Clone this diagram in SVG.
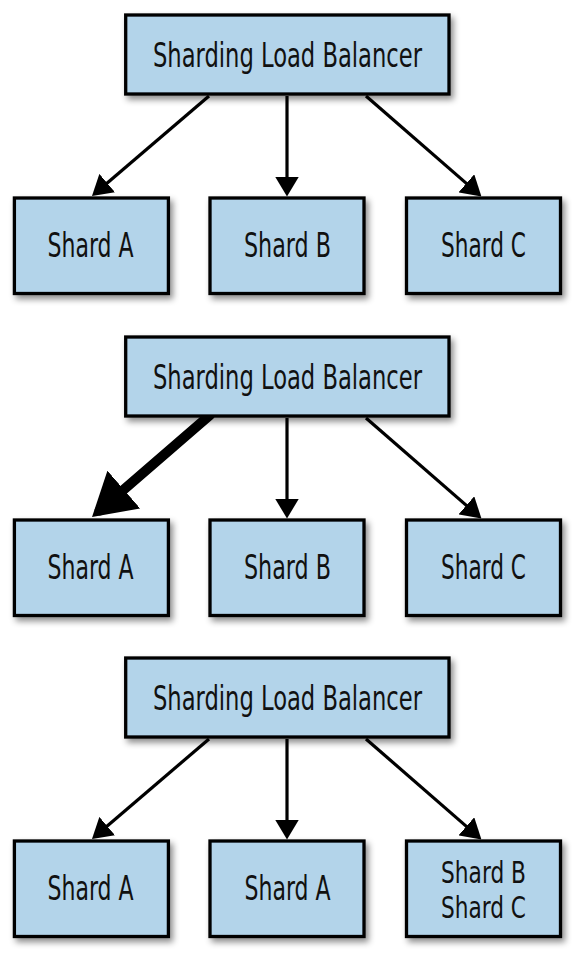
<svg xmlns="http://www.w3.org/2000/svg" width="587" height="963" viewBox="0 0 587 963">
<style>
.box{fill:#b3d4ea;stroke:#000;stroke-width:3.3;filter:url(#sh)}
.lbl{font-family:"Liberation Sans Narrow","DejaVu Sans Condensed","Liberation Sans",sans-serif;font-stretch:condensed;font-size:33px;fill:#111;text-anchor:middle}
.sm{font-size:30px}
.ln{stroke:#000;stroke-width:3.2;fill:none;marker-end:url(#ah)}
.thick{stroke:#000;stroke-width:10;fill:none;stroke-linecap:round;marker-end:url(#ahb)}
</style>
<defs>
<filter id="sh" x="-10%" y="-10%" width="130%" height="140%">
<feDropShadow dx="3" dy="4" stdDeviation="3" flood-color="#000" flood-opacity="0.45"/>
</filter>
<marker id="ah" markerUnits="userSpaceOnUse" markerWidth="20" markerHeight="24" viewBox="0 0 20 24" refX="8" refY="12" orient="auto">
<path d="M0,0 L20,12 L0,24 z" fill="#000"/>
</marker>
<marker id="ahb" markerUnits="userSpaceOnUse" markerWidth="42" markerHeight="50" viewBox="0 0 42 50" refX="32" refY="25" orient="auto">
<path d="M0,0 L42,25 L0,50 z" fill="#000"/>
</marker>
</defs>
<rect width="587" height="963" fill="#fff"/>

<g id="connectors">
<line class="ln" x1="209" y1="96" x2="101.1" y2="188.2"/>
<line class="ln" x1="287" y1="96" x2="287" y2="184.5"/>
<line class="ln" x1="366" y1="96" x2="472.4" y2="188.6"/>

<line class="thick" x1="210" y1="415" x2="99.6" y2="510.5"/>
<line class="ln" x1="287" y1="418" x2="287" y2="506.5"/>
<line class="ln" x1="366" y1="418" x2="472.4" y2="510.6"/>

<line class="ln" x1="209" y1="739" x2="101.1" y2="831.2"/>
<line class="ln" x1="287" y1="739" x2="287" y2="827.5"/>
<line class="ln" x1="366" y1="739" x2="472.4" y2="831.6"/>
</g>

<g id="lb1"><rect class="box" x="125.7" y="15" width="323.3" height="79"/><text class="lbl" x="287.5" y="66.7" textLength="269" lengthAdjust="spacingAndGlyphs">Sharding Load Balancer</text></g>
<g id="r1a"><rect class="box" x="14.4" y="198" width="154" height="95.5"/><text class="lbl" x="90.5" y="256.7" textLength="86" lengthAdjust="spacingAndGlyphs">Shard A</text></g>
<g id="r1b"><rect class="box" x="210" y="198" width="154" height="95.5"/><text class="lbl" x="287.5" y="256.7" textLength="87" lengthAdjust="spacingAndGlyphs">Shard B</text></g>
<g id="r1c"><rect class="box" x="406.5" y="198" width="154" height="95.5"/><text class="lbl" x="483.5" y="256.7" textLength="85" lengthAdjust="spacingAndGlyphs">Shard C</text></g>

<g id="lb2"><rect class="box" x="125.7" y="337" width="323.3" height="79"/><text class="lbl" x="287.5" y="388.7" textLength="269" lengthAdjust="spacingAndGlyphs">Sharding Load Balancer</text></g>
<g id="r2a"><rect class="box" x="14.4" y="520" width="154" height="95.5"/><text class="lbl" x="90.5" y="578.7" textLength="86" lengthAdjust="spacingAndGlyphs">Shard A</text></g>
<g id="r2b"><rect class="box" x="210" y="520" width="154" height="95.5"/><text class="lbl" x="287.5" y="578.7" textLength="87" lengthAdjust="spacingAndGlyphs">Shard B</text></g>
<g id="r2c"><rect class="box" x="406.5" y="520" width="154" height="95.5"/><text class="lbl" x="483.5" y="578.7" textLength="85" lengthAdjust="spacingAndGlyphs">Shard C</text></g>

<g id="lb3"><rect class="box" x="125.7" y="658" width="323.3" height="79"/><text class="lbl" x="287.5" y="709.7" textLength="269" lengthAdjust="spacingAndGlyphs">Sharding Load Balancer</text></g>
<g id="r3a"><rect class="box" x="14.4" y="841" width="154" height="95.5"/><text class="lbl" x="90.5" y="899.7" textLength="86" lengthAdjust="spacingAndGlyphs">Shard A</text></g>
<g id="r3b"><rect class="box" x="210" y="841" width="154" height="95.5"/><text class="lbl" x="287.5" y="899.7" textLength="86" lengthAdjust="spacingAndGlyphs">Shard A</text></g>
<g id="r3c"><rect class="box" x="406.5" y="841" width="154" height="95.5"/><text class="lbl sm" x="483.5" y="882.5" textLength="85" lengthAdjust="spacingAndGlyphs">Shard B</text><text class="lbl sm" x="483.5" y="917.5" textLength="85" lengthAdjust="spacingAndGlyphs">Shard C</text></g>
</svg>
